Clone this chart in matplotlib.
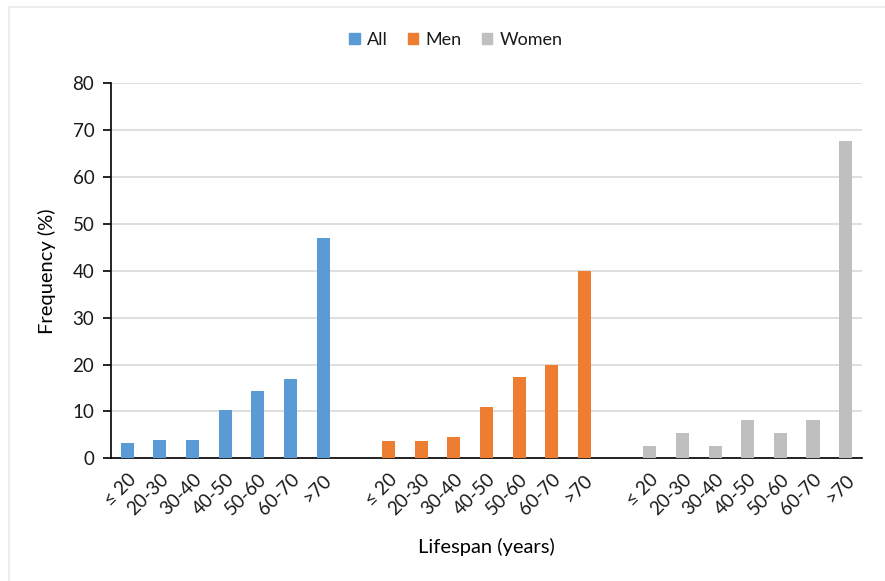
import matplotlib.pyplot as plt
import numpy as np
from matplotlib.lines import Line2D
from matplotlib.patches import Patch

plt.rcParams['font.family'] = ['Lato', 'DejaVu Sans']
plt.rcParams['text.color'] = '#1a1a1a'

age_bins = ['≤ 20', '20-30', '30-40', '40-50', '50-60', '60-70', '>70']
all_freq = [3.3, 4.0, 4.0, 10.2, 14.3, 17.0, 47.0]
men_freq = [3.6, 3.6, 4.5, 10.9, 17.3, 20.0, 40.0]
women_freq = [2.7, 5.4, 2.7, 8.1, 5.4, 8.1, 67.6]

groups = [('All', all_freq, '#5b9bd5'),
          ('Men', men_freq, '#ed7d31'),
          ('Women', women_freq, '#bfbfbf')]

fig = plt.figure(figsize=(8.85, 5.81), dpi=100)
ax = fig.add_axes([0.1254, 0.2112, 0.9740 - 0.1254, 0.8566 - 0.2112])

# chart frame (top and left edges)
fig.add_artist(Line2D([9 / 885, 1], [1 - 7 / 581] * 2, color='#ececec', lw=1.5,
                      transform=fig.transFigure))
fig.add_artist(Line2D([9 / 885] * 2, [0, 1 - 7 / 581], color='#ececec', lw=1.5,
                      transform=fig.transFigure))

n = len(age_bins)
ticks, labels, handles = [], [], []
for g, (name, vals, col) in enumerate(groups):
    x = np.arange(n) + g * (n + 1)
    ax.bar(x, vals, width=0.4, color=col, zorder=3)
    ticks.extend(x)
    labels.extend(age_bins)
    handles.append(Patch(color=col, label=name))

ax.set_xlim(-0.5, 3 * n + 1.5)
ax.set_ylim(0, 80)
ax.set_yticks(range(0, 81, 10))
ax.set_xticks(ticks)
ax.set_xticklabels(labels, rotation=45, ha='right', rotation_mode='anchor')
ax.tick_params(axis='x', length=0, pad=9, labelsize=13.5, labelcolor='#1a1a1a')
ax.tick_params(axis='y', length=6, width=1.2, direction='out', labelsize=13.5,
               pad=6, labelcolor='#1a1a1a')

ax.grid(axis='y', color='#d9d9d9', lw=1.2, zorder=0)
for s in ['top', 'right']:
    ax.spines[s].set_visible(False)
ax.spines['left'].set_linewidth(1.2)
ax.spines['bottom'].set_linewidth(1.2)

ax.set_ylabel('Frequency (%)', fontsize=14.5, labelpad=12)
ax.set_xlabel('Lifespan (years)', fontsize=14.5, labelpad=14)

fig.legend(handles=handles, loc='center', bbox_to_anchor=(0.515, 1 - 40 / 581),
           ncol=3, frameon=False, fontsize=13, handlelength=0.6, handleheight=0.6,
           handletextpad=0.4, columnspacing=1.1)

fig.savefig('out.png', dpi=100, facecolor='white')
